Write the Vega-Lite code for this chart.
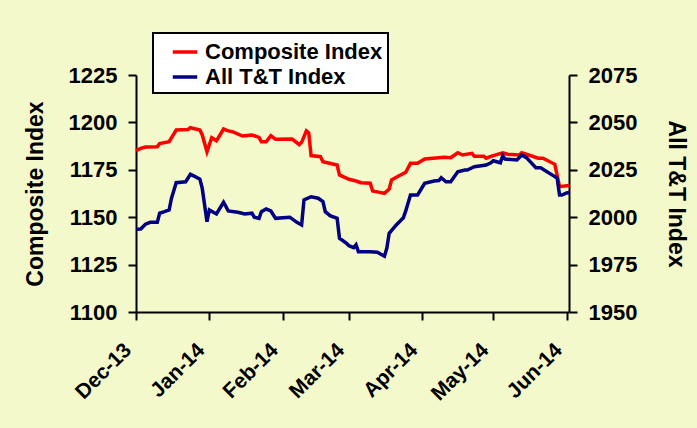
{
  "$schema": "https://vega.github.io/schema/vega-lite/v6.json",
  "autosize": {"type": "none"},
  "padding": {"left": 136, "top": 75, "right": 128, "bottom": 116},
  "width": 433,
  "height": 237,
  "background": "#F4F9CB",
  "config": {
    "view": {"stroke": null},
    "font": "Liberation Sans",
    "axis": {
      "grid": false,
      "domainColor": "black",
      "domainWidth": 2,
      "tickColor": "black",
      "tickWidth": 2,
      "tickSize": 8,
      "labelFont": "Liberation Sans",
      "labelFontSize": 22,
      "labelFontWeight": "bold",
      "labelColor": "black",
      "labelPadding": 11,
      "titleFont": "Liberation Sans",
      "titleFontSize": 23,
      "titleFontWeight": "bold",
      "titleColor": "black"
    },
    "legend": {
      "strokeColor": "black",
      "strokeWidth": 2,
      "fillColor": "white"
    }
  },
  "datasets": {
    "comp": [
      {"d": "2013-12-01", "v": 1185.1},
      {"d": "2013-12-03", "v": 1186.3},
      {"d": "2013-12-05", "v": 1187.0},
      {"d": "2013-12-10", "v": 1187.2},
      {"d": "2013-12-11", "v": 1188.8},
      {"d": "2013-12-15", "v": 1189.8},
      {"d": "2013-12-18", "v": 1196.0},
      {"d": "2013-12-23", "v": 1196.3},
      {"d": "2013-12-24", "v": 1197.2},
      {"d": "2013-12-28", "v": 1196.0},
      {"d": "2013-12-29", "v": 1193.4},
      {"d": "2013-12-31", "v": 1184.5},
      {"d": "2014-01-02", "v": 1191.9},
      {"d": "2014-01-04", "v": 1190.3},
      {"d": "2014-01-07", "v": 1196.5},
      {"d": "2014-01-09", "v": 1195.5},
      {"d": "2014-01-11", "v": 1195.0},
      {"d": "2014-01-15", "v": 1192.8},
      {"d": "2014-01-19", "v": 1193.4},
      {"d": "2014-01-22", "v": 1192.1},
      {"d": "2014-01-23", "v": 1189.8},
      {"d": "2014-01-25", "v": 1189.8},
      {"d": "2014-01-27", "v": 1193.0},
      {"d": "2014-01-29", "v": 1191.1},
      {"d": "2014-02-05", "v": 1191.2},
      {"d": "2014-02-08", "v": 1188.3},
      {"d": "2014-02-09", "v": 1189.5},
      {"d": "2014-02-11", "v": 1195.5},
      {"d": "2014-02-12", "v": 1194.5},
      {"d": "2014-02-13", "v": 1182.5},
      {"d": "2014-02-17", "v": 1181.9},
      {"d": "2014-02-18", "v": 1179.3},
      {"d": "2014-02-24", "v": 1177.5},
      {"d": "2014-02-25", "v": 1172.3},
      {"d": "2014-03-01", "v": 1170.0},
      {"d": "2014-03-04", "v": 1169.1},
      {"d": "2014-03-06", "v": 1168.2},
      {"d": "2014-03-10", "v": 1167.9},
      {"d": "2014-03-11", "v": 1163.8},
      {"d": "2014-03-14", "v": 1163.1},
      {"d": "2014-03-16", "v": 1162.6},
      {"d": "2014-03-18", "v": 1164.9},
      {"d": "2014-03-19", "v": 1169.6},
      {"d": "2014-03-22", "v": 1171.7},
      {"d": "2014-03-25", "v": 1173.7},
      {"d": "2014-03-27", "v": 1178.4},
      {"d": "2014-03-30", "v": 1178.4},
      {"d": "2014-04-02", "v": 1180.7},
      {"d": "2014-04-08", "v": 1181.4},
      {"d": "2014-04-10", "v": 1181.6},
      {"d": "2014-04-13", "v": 1181.4},
      {"d": "2014-04-16", "v": 1184.0},
      {"d": "2014-04-18", "v": 1182.8},
      {"d": "2014-04-22", "v": 1183.7},
      {"d": "2014-04-23", "v": 1182.1},
      {"d": "2014-04-27", "v": 1182.1},
      {"d": "2014-04-28", "v": 1181.1},
      {"d": "2014-04-30", "v": 1182.1},
      {"d": "2014-05-05", "v": 1184.0},
      {"d": "2014-05-07", "v": 1183.2},
      {"d": "2014-05-12", "v": 1182.8},
      {"d": "2014-05-13", "v": 1184.0},
      {"d": "2014-05-15", "v": 1183.2},
      {"d": "2014-05-20", "v": 1181.1},
      {"d": "2014-05-22", "v": 1181.1},
      {"d": "2014-05-27", "v": 1177.9},
      {"d": "2014-05-29", "v": 1166.1},
      {"d": "2014-06-01", "v": 1166.6},
      {"d": "2014-06-02", "v": 1166.7}
    ],
    "tt": [
      {"d": "2013-12-01", "v": 1993.6},
      {"d": "2013-12-03", "v": 1993.8},
      {"d": "2013-12-05", "v": 1996.3},
      {"d": "2013-12-07", "v": 1997.3},
      {"d": "2013-12-10", "v": 1997.3},
      {"d": "2013-12-11", "v": 2002.1},
      {"d": "2013-12-13", "v": 2002.9},
      {"d": "2013-12-15", "v": 2003.8},
      {"d": "2013-12-16", "v": 2010.0},
      {"d": "2013-12-18", "v": 2018.2},
      {"d": "2013-12-22", "v": 2018.7},
      {"d": "2013-12-24", "v": 2022.6},
      {"d": "2013-12-26", "v": 2021.4},
      {"d": "2013-12-28", "v": 2020.1},
      {"d": "2013-12-29", "v": 2015.2},
      {"d": "2013-12-31", "v": 1997.6},
      {"d": "2014-01-01", "v": 2003.8},
      {"d": "2014-01-04", "v": 2001.7},
      {"d": "2014-01-07", "v": 2007.9},
      {"d": "2014-01-09", "v": 2003.3},
      {"d": "2014-01-13", "v": 2002.6},
      {"d": "2014-01-16", "v": 2001.7},
      {"d": "2014-01-19", "v": 2002.1},
      {"d": "2014-01-20", "v": 2000.0},
      {"d": "2014-01-22", "v": 1999.4},
      {"d": "2014-01-23", "v": 2002.9},
      {"d": "2014-01-25", "v": 2004.3},
      {"d": "2014-01-27", "v": 2003.3},
      {"d": "2014-01-29", "v": 1999.4},
      {"d": "2014-02-04", "v": 2000.0},
      {"d": "2014-02-07", "v": 1997.3},
      {"d": "2014-02-09", "v": 1995.9},
      {"d": "2014-02-10", "v": 2009.1},
      {"d": "2014-02-13", "v": 2010.8},
      {"d": "2014-02-16", "v": 2010.0},
      {"d": "2014-02-18", "v": 2008.2},
      {"d": "2014-02-19", "v": 2002.9},
      {"d": "2014-02-21", "v": 2000.8},
      {"d": "2014-02-24", "v": 1999.4},
      {"d": "2014-02-25", "v": 1988.9},
      {"d": "2014-02-28", "v": 1986.2},
      {"d": "2014-03-01", "v": 1985.0},
      {"d": "2014-03-03", "v": 1984.0},
      {"d": "2014-03-04", "v": 1985.5},
      {"d": "2014-03-05", "v": 1981.8},
      {"d": "2014-03-10", "v": 1981.8},
      {"d": "2014-03-13", "v": 1981.5},
      {"d": "2014-03-16", "v": 1979.4},
      {"d": "2014-03-17", "v": 1983.6},
      {"d": "2014-03-18", "v": 1991.5},
      {"d": "2014-03-21", "v": 1995.9},
      {"d": "2014-03-24", "v": 1999.7},
      {"d": "2014-03-25", "v": 2003.3},
      {"d": "2014-03-27", "v": 2011.7},
      {"d": "2014-03-30", "v": 2011.7},
      {"d": "2014-04-02", "v": 2017.9},
      {"d": "2014-04-06", "v": 2019.1},
      {"d": "2014-04-08", "v": 2019.3},
      {"d": "2014-04-09", "v": 2020.8},
      {"d": "2014-04-11", "v": 2018.7},
      {"d": "2014-04-13", "v": 2018.7},
      {"d": "2014-04-16", "v": 2024.0},
      {"d": "2014-04-19", "v": 2024.9},
      {"d": "2014-04-20", "v": 2024.9},
      {"d": "2014-04-23", "v": 2026.6},
      {"d": "2014-04-28", "v": 2027.5},
      {"d": "2014-04-30", "v": 2028.7},
      {"d": "2014-05-01", "v": 2029.8},
      {"d": "2014-05-04", "v": 2028.7},
      {"d": "2014-05-05", "v": 2032.4},
      {"d": "2014-05-06", "v": 2030.7},
      {"d": "2014-05-11", "v": 2030.2},
      {"d": "2014-05-13", "v": 2032.8},
      {"d": "2014-05-15", "v": 2031.4},
      {"d": "2014-05-19", "v": 2026.1},
      {"d": "2014-05-21", "v": 2026.1},
      {"d": "2014-05-27", "v": 2021.4},
      {"d": "2014-05-28", "v": 2020.5},
      {"d": "2014-05-29", "v": 2011.7},
      {"d": "2014-05-30", "v": 2011.7},
      {"d": "2014-06-01", "v": 2012.8},
      {"d": "2014-06-02", "v": 2013.0}
    ]
  },
  "encoding": {
    "x": {
      "field": "d",
      "type": "temporal",
      "scale": {
        "type": "utc",
        "domain": [
          {"year": 2013, "month": 12, "date": 1, "utc": true},
          {"year": 2014, "month": 6, "date": 2, "utc": true}
        ]
      },
      "axis": {
        "title": null,
        "format": "%b-%y",
        "labelAngle": -45,
        "labelPadding": 19,
        "labelOffset": -16,
        "labelFontSize": 21,
        "values": [
          {"year": 2013, "month": 12, "date": 1, "utc": true},
          {"year": 2014, "month": 1, "date": 1, "utc": true},
          {"year": 2014, "month": 2, "date": 1, "utc": true},
          {"year": 2014, "month": 3, "date": 1, "utc": true},
          {"year": 2014, "month": 4, "date": 1, "utc": true},
          {"year": 2014, "month": 5, "date": 1, "utc": true},
          {"year": 2014, "month": 6, "date": 1, "utc": true}
        ]
      }
    }
  },
  "layer": [
    {
      "data": {"name": "comp"},
      "mark": {"type": "line", "strokeWidth": 3.5},
      "encoding": {
        "y": {
          "field": "v",
          "type": "quantitative",
          "scale": {"domain": [1100, 1225], "zero": false, "nice": false},
          "axis": {
            "title": "Composite Index",
            "format": "d",
            "values": [1100, 1125, 1150, 1175, 1200, 1225],
            "titlePadding": 21
          }
        },
        "color": {
          "datum": "Composite Index",
          "scale": {
            "domain": ["Composite Index", "All T&T Index"],
            "range": ["#FF0000", "#000080"]
          },
          "legend": {
            "title": null,
            "orient": "none",
            "legendX": 17,
            "legendY": -42,
            "padding": 5,
            "labelFont": "Liberation Sans",
            "labelFontSize": 22,
            "labelFontWeight": "bold",
            "labelColor": "black",
            "labelOffset": 6,
            "labelLimit": 400,
            "labelExpr": "datum.label + '\u00a0\u00a0'",
            "symbolOffset": 13,
            "symbolType": "stroke",
            "symbolStrokeWidth": 3.5,
            "symbolSize": 600,
            "rowPadding": 0
          }
        }
      }
    },
    {
      "data": {"name": "tt"},
      "mark": {"type": "line", "strokeWidth": 3.5},
      "encoding": {
        "y": {
          "field": "v",
          "type": "quantitative",
          "scale": {"domain": [1950, 2075], "zero": false, "nice": false},
          "axis": {
            "title": "All T&T Index",
            "format": "d",
            "orient": "right",
            "values": [1950, 1975, 2000, 2025, 2050, 2075],
            "titlePadding": 27
          }
        },
        "color": {"datum": "All T&T Index"}
      }
    }
  ],
  "resolve": {"scale": {"y": "independent"}}
}
